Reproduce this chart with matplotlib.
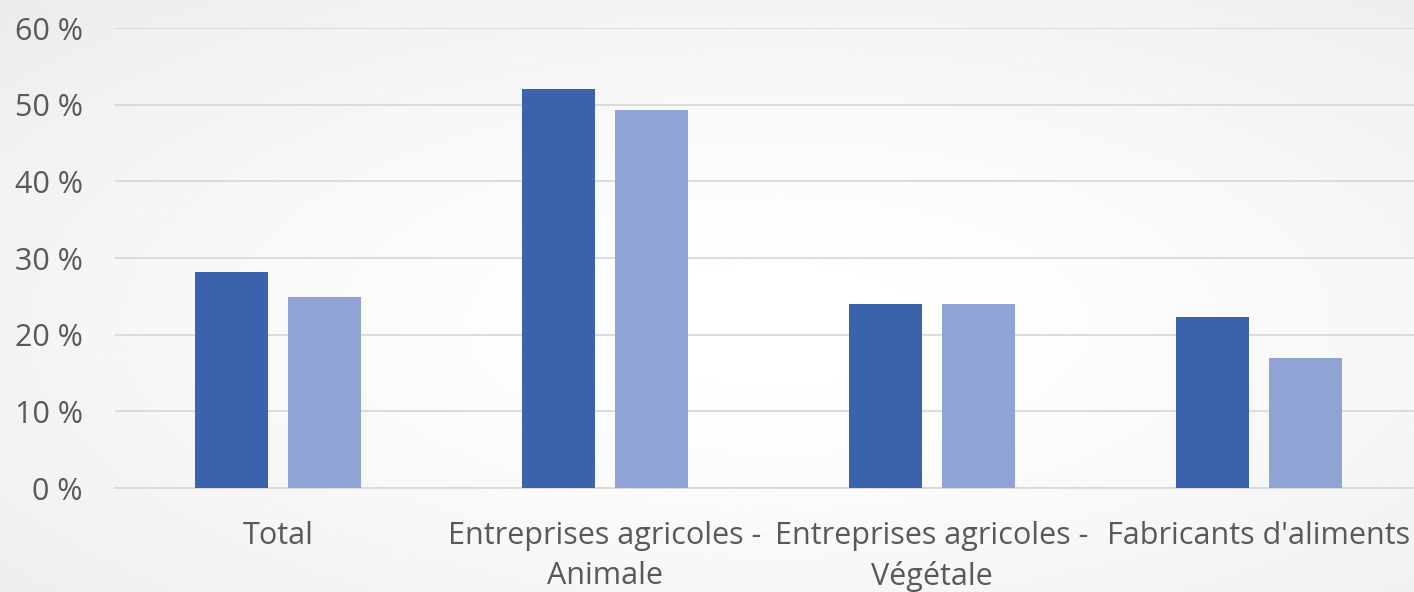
import matplotlib.pyplot as plt
import numpy as np

categories = ["Total", "Entreprises agricoles -\nAnimale", "Entreprises agricoles -\nVégétale", "Fabricants d'aliments"]
serie_1 = [28.2, 52.1, 24.0, 22.3]
serie_2 = [24.9, 49.3, 24.0, 16.9]
yticks = [0, 10, 20, 30, 40, 50, 60]

plt.rcParams['font.family'] = ['Open Sans', 'DejaVu Sans']

fig = plt.figure(figsize=(14.14, 5.92), dpi=100)

# radial grey background
bg = fig.add_axes([0, 0, 1, 1], zorder=-10)
yy, xx = np.mgrid[0:1:300j, 0:1:700j]
r = np.sqrt(((xx - 0.55) / 0.8) ** 2 + ((yy - 0.55) / 0.8) ** 2)
shade = 1.0 - 0.08 * np.clip(r, 0, 1) ** 1.5
bg.imshow(shade, cmap="gray", vmin=0, vmax=1, aspect="auto", extent=[0, 1, 0, 1])
bg.axis("off")

ax = fig.add_axes([114.5 / 1414, 1 - 488 / 592, 1308 / 1414, (488 - 28) / 592])
ax.patch.set_alpha(0)

x = np.arange(len(categories))
w = 0.223
ax.bar(x - 0.142, serie_1, w, color="#3a63ac", zorder=3)
ax.bar(x + 0.142, serie_2, w, color="#8fa3d4", zorder=3)

ax.set_xlim(-0.5, 3.5)
ax.set_ylim(0, 60)
ax.set_yticks(yticks)
ax.set_yticklabels([f"{t} %" for t in yticks])
ax.set_xticks(x)
ax.set_xticklabels(categories, linespacing=1.4)
ax.grid(axis="y", color="#d9d9d9", linewidth=1.3, zorder=0)
for s in ["top", "right", "left"]:
    ax.spines[s].set_visible(False)
ax.spines["bottom"].set_color("#d9d9d9")
ax.spines["bottom"].set_linewidth(1.3)
ax.tick_params(axis="both", length=0, labelsize=22, colors="#595959")
ax.tick_params(axis="x", pad=24)
ax.tick_params(axis="y", pad=23)

fig.savefig("out.png", dpi=100)
